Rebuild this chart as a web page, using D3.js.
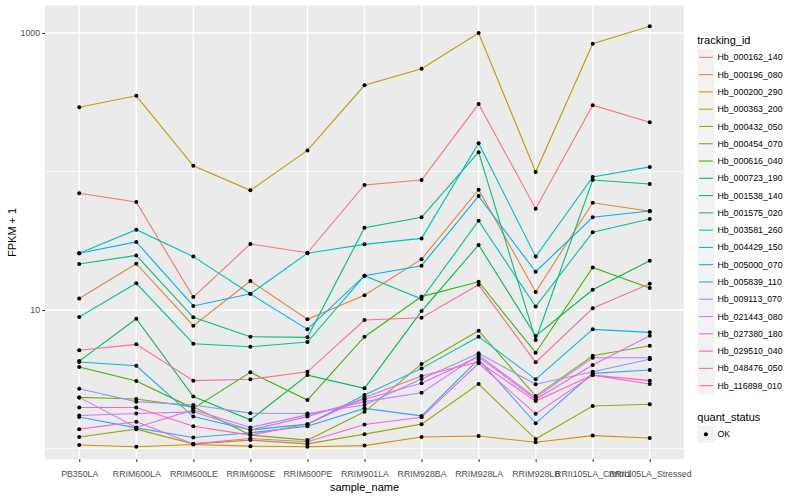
<!DOCTYPE html>
<html>
<head>
<meta charset="utf-8">
<script src="https://cdn.jsdelivr.net/npm/d3@7"></script>
<style>
  body { margin: 0; background: #fff; }
  text { font-family: "Liberation Sans", Arial, Helvetica, sans-serif; }
</style>
</head>
<body>
<svg id="chart" width="800" height="500"></svg>
<script>
// samples on the x axis
const samples = ["PB350LA", "RRIM600LA", "RRIM600LE", "RRIM600SE", "RRIM600PE", "RRIM901LA",
    "RRIM928BA", "RRIM928LA", "RRIM928LB", "RRII105LA_Control", "RRII105LA_Stressed"];

const trackingIds = ["Hb_000162_140", "Hb_000196_080", "Hb_000200_290", "Hb_000363_200", "Hb_000432_050",
    "Hb_000454_070", "Hb_000616_040", "Hb_000723_190", "Hb_001538_140", "Hb_001575_020",
    "Hb_003581_260", "Hb_004429_150", "Hb_005000_070", "Hb_005839_110", "Hb_009113_070",
    "Hb_021443_080", "Hb_027380_180", "Hb_029510_040", "Hb_048476_050", "Hb_116898_010"];

// FPKM + 1, one array per gene, in sample order
const hb_000162_140 = [69.6, 60.2, 12.4, 30.0, 25.9, 79.9, 86.8, 307, 53.9, 301, 227];
const hb_000196_080 = [12.1, 21.6, 7.70, 16.2, 8.57, 12.8, 23.3, 73.9, 13.5, 59.5, 51.6];
const hb_000200_290 = [1.06, 1.03, 1.07, 1.04, 1.03, 1.05, 1.21, 1.23, 1.11, 1.24, 1.19];
const hb_000363_200 = [291, 352, 110, 73.1, 142, 419, 552, 1000, 99.2, 837, 1118];
const hb_000432_050 = [1.21, 1.38, 1.08, 1.15, 1.08, 1.27, 1.50, 2.92, 1.17, 2.03, 2.09];
const hb_000454_070 = [2.34, 2.28, 2.00, 1.25, 1.15, 1.84, 4.08, 7.09, 2.39, 4.68, 5.52];
const hb_000616_040 = [3.88, 3.07, 1.95, 3.55, 2.24, 6.42, 12.5, 16.0, 4.92, 20.3, 14.4];
const hb_000723_190 = [4.28, 8.65, 2.37, 1.61, 3.39, 2.72, 9.83, 29.5, 6.49, 14.0, 22.7];
const hb_001538_140 = [21.5, 24.8, 8.86, 6.42, 6.35, 39.3, 46.7, 138, 6.07, 86.8, 81.2];
const hb_001575_020 = [8.90, 15.6, 5.71, 5.43, 5.87, 17.7, 12.0, 44.1, 10.6, 36.4, 45.4];
const hb_003581_260 = [25.7, 38.0, 24.3, 13.1, 25.7, 29.8, 32.9, 160, 24.3, 91.3, 108];
const hb_004429_150 = [4.21, 3.96, 1.70, 1.36, 1.50, 2.43, 3.79, 6.42, 3.16, 7.25, 6.90];
const hb_005000_070 = [25.7, 31.0, 10.7, 13.1, 7.25, 17.7, 20.9, 66.5, 18.9, 46.7, 51.9];
const hb_005839_110 = [1.69, 1.41, 1.20, 1.30, 1.45, 1.95, 1.72, 4.41, 1.52, 3.49, 3.69];
const hb_009113_070 = [2.70, 2.18, 2.06, 1.80, 1.79, 2.06, 3.18, 4.87, 2.91, 3.58, 4.41];
const hb_021443_080 = [2.34, 1.42, 1.90, 1.42, 1.75, 2.18, 2.53, 4.73, 2.33, 4.52, 4.52];
const hb_027380_180 = [1.73, 1.79, 1.84, 1.36, 1.70, 2.27, 2.96, 4.60, 2.27, 4.01, 6.52];
const hb_029510_040 = [1.38, 1.56, 1.08, 1.18, 1.12, 1.49, 1.68, 4.12, 1.78, 3.39, 2.92];
const hb_048476_050 = [1.98, 1.98, 1.45, 1.25, 1.50, 2.34, 3.34, 4.23, 2.20, 3.39, 3.09];
const hb_116898_010 = [5.12, 5.65, 3.09, 3.16, 3.58, 8.47, 8.80, 15.2, 4.19, 10.3, 15.5];

const yTicks = [10, 1000];
const yMinor = [1, 100];
const quantStatus = ["OK"];

const seriesValues = [hb_000162_140, hb_000196_080, hb_000200_290, hb_000363_200, hb_000432_050,
    hb_000454_070, hb_000616_040, hb_000723_190, hb_001538_140, hb_001575_020,
    hb_003581_260, hb_004429_150, hb_005000_070, hb_005839_110, hb_009113_070,
    hb_021443_080, hb_027380_180, hb_029510_040, hb_048476_050, hb_116898_010];

// ggplot2 default hue palette for 20 levels
const palette = ["#F8766D", "#EA8331", "#D89000", "#C09B00", "#A3A500", "#7CAE00", "#39B600",
    "#00BB4E", "#00BF7D", "#00C1A3", "#00BFC4", "#00BAE0", "#00B0F6", "#35A2FF", "#9590FF",
    "#C77CFF", "#E76BF3", "#FA62DB", "#FF62BC", "#FF6C91"];

const series = trackingIds.map((id, i) => ({ id: id, values: seriesValues[i] }));

const panel = { left: 45, right: 684, top: 5.5, bottom: 459.3 };
const svg = d3.select("#chart");

const x = d3.scalePoint().domain(samples).range([panel.left, panel.right]).padding(0.6);
const y = d3.scaleLog().domain([0.836, 1580]).range([panel.bottom, panel.top]);
const color = d3.scaleOrdinal().domain(trackingIds).range(palette);

// panel background and grid
svg.append("rect")
    .attr("x", panel.left).attr("y", panel.top)
    .attr("width", panel.right - panel.left).attr("height", panel.bottom - panel.top)
    .attr("fill", "#EBEBEB");

const grid = svg.append("g");
grid.selectAll("line.minor").data(yMinor).join("line")
    .attr("x1", panel.left).attr("x2", panel.right)
    .attr("y1", d => y(d)).attr("y2", d => y(d))
    .attr("stroke", "#fff").attr("stroke-width", 0.7);
grid.selectAll("line.majory").data(yTicks).join("line")
    .attr("x1", panel.left).attr("x2", panel.right)
    .attr("y1", d => y(d)).attr("y2", d => y(d))
    .attr("stroke", "#fff").attr("stroke-width", 1.4);
grid.selectAll("line.majorx").data(samples).join("line")
    .attr("x1", d => x(d)).attr("x2", d => x(d))
    .attr("y1", panel.top).attr("y2", panel.bottom)
    .attr("stroke", "#fff").attr("stroke-width", 1.4);

// lines
const line = d3.line()
    .x((d, i) => x(samples[i]))
    .y(d => y(d));

svg.append("g").selectAll("path").data(series).join("path")
    .attr("d", d => line(d.values))
    .attr("fill", "none")
    .attr("stroke", d => color(d.id))
    .attr("stroke-width", 1.1);

// points
const pts = [];
series.forEach(s => s.values.forEach((v, i) => pts.push({ sample: samples[i], v: v })));
svg.append("g").selectAll("circle").data(pts).join("circle")
    .attr("cx", d => x(d.sample))
    .attr("cy", d => y(d.v))
    .attr("r", 2)
    .attr("fill", "#000");

// axes
const xAxis = svg.append("g")
    .attr("transform", `translate(0,${panel.bottom})`)
    .call(d3.axisBottom(x).tickSize(2.75).tickPadding(9));
const yAxis = svg.append("g")
    .attr("transform", `translate(${panel.left},0)`)
    .call(d3.axisLeft(y).tickValues(yTicks).tickFormat(d3.format("d")).tickSize(2.75).tickPadding(2.2));

[xAxis, yAxis].forEach(a => {
    a.select(".domain").remove();
    a.selectAll(".tick line").attr("stroke", "#333333").attr("stroke-width", 1.1);
    a.selectAll(".tick text").attr("fill", "#4D4D4D")
        .style("font-size", "8.8px")
        .style("font-family", "\"Liberation Sans\", Arial, sans-serif");
});

svg.append("text")
    .attr("x", (panel.left + panel.right) / 2).attr("y", 491)
    .attr("text-anchor", "middle")
    .style("font-size", "11px")
    .text("sample_name");

svg.append("text")
    .attr("transform", `translate(16,${(panel.top + panel.bottom) / 2}) rotate(-90)`)
    .attr("text-anchor", "middle")
    .style("font-size", "11px")
    .text("FPKM + 1");

// legends
const legX = 697.3, keySize = 17.28;
svg.append("text").attr("x", legX).attr("y", 44).style("font-size", "11px").text("tracking_id");

const keys = svg.append("g").selectAll("g").data(trackingIds).join("g")
    .attr("transform", (d, i) => `translate(${legX},${48.7 + i * keySize})`);
keys.append("rect").attr("width", keySize).attr("height", keySize).attr("fill", "#F2F2F2");
keys.append("line")
    .attr("x1", 1.7).attr("x2", keySize - 1.7)
    .attr("y1", keySize / 2).attr("y2", keySize / 2)
    .attr("stroke", d => color(d)).attr("stroke-width", 1.1);
keys.append("text")
    .attr("x", keySize + 2.9).attr("y", keySize / 2)
    .attr("dy", "0.35em")
    .style("font-size", "8.8px")
    .text(d => d);

svg.append("text").attr("x", legX).attr("y", 421).style("font-size", "11px").text("quant_status");
const qk = svg.append("g").selectAll("g").data(quantStatus).join("g")
    .attr("transform", (d, i) => `translate(${legX},${425.5 + i * keySize})`);
qk.append("rect").attr("width", keySize).attr("height", keySize).attr("fill", "#F2F2F2");
qk.append("circle").attr("cx", keySize / 2).attr("cy", keySize / 2).attr("r", 2).attr("fill", "#000");
qk.append("text")
    .attr("x", keySize + 2.9).attr("y", keySize / 2)
    .attr("dy", "0.35em")
    .style("font-size", "8.8px")
    .text(d => d);
</script>
</body>
</html>
